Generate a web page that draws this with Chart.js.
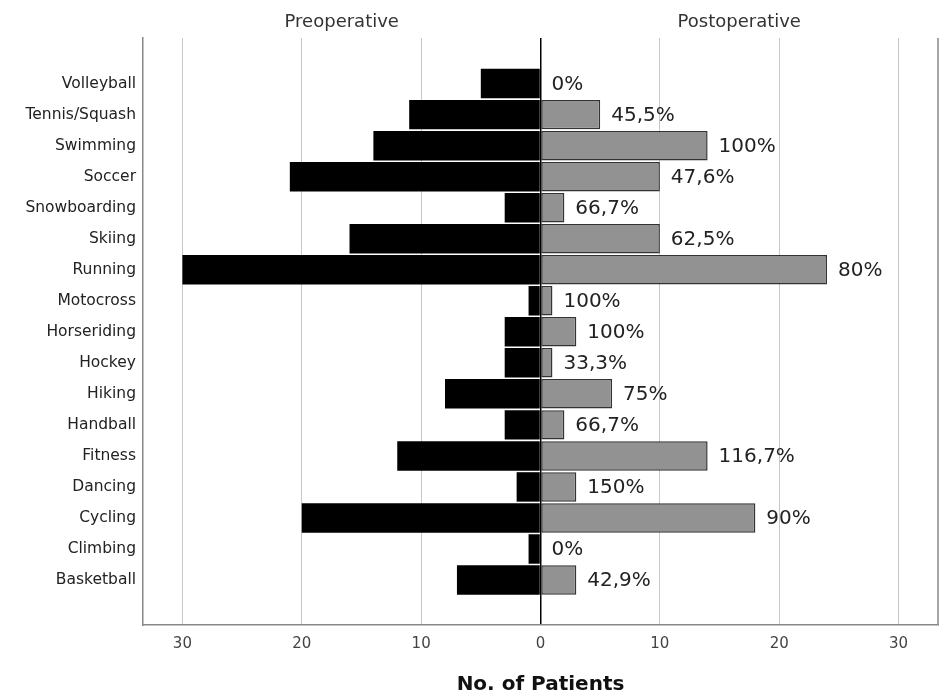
<!DOCTYPE html>
<html>
<head>
<meta charset="utf-8">
<script src="https://cdn.jsdelivr.net/npm/chart.js"></script>
<style>
  html, body { margin:0; padding:0; background:#fff; }
  .wrap { width:939px; height:699px; }
</style>
</head>
<body>
<div class="wrap"><canvas id="myChart"></canvas></div>
<script>
// data
var sports = ['Volleyball', 'Tennis/Squash', 'Swimming', 'Soccer', 'Snowboarding', 'Skiing', 'Running', 'Motocross', 'Horseriding', 'Hockey', 'Hiking', 'Handball', 'Fitness', 'Dancing', 'Cycling', 'Climbing', 'Basketball'];
var preop  = [5, 11, 14, 21, 3, 16, 30, 1, 3, 3, 8, 3, 12, 2, 20, 1, 7];
var postop = [0, 5, 14, 10, 2, 10, 24, 1, 3, 1, 6, 2, 14, 3, 18, 0, 3];
var changeLabels = ['0%', '45,5%', '100%', '47,6%', '66,7%', '62,5%', '80%', '100%', '100%', '33,3%', '75%', '66,7%', '116,7%', '150%', '90%', '0%', '42,9%'];
var xTicks = [-30, -20, -10, 0, 10, 20, 30];
var sideTitles = ['Preoperative', 'Postoperative'];

Chart.defaults.font.family = 'DejaVu Sans';

// percent labels, right frame, side titles
var extras = {
  id: 'extras',
  afterDatasetsDraw: function(chart){
    var c = chart.ctx, area = chart.chartArea;
    var zero = chart.scales.x.getPixelForValue(0);
    c.save();
    c.strokeStyle = '#888';
    c.lineWidth = 1.5;
    c.beginPath();
    c.moveTo(area.right, area.top);
    c.lineTo(area.right, area.bottom);
    c.stroke();

    c.font = '20px "DejaVu Sans"';
    c.fillStyle = '#222';
    c.textBaseline = 'middle';
    c.textAlign = 'left';
    chart.getDatasetMeta(1).data.forEach(function(bar, i){
      c.fillText(changeLabels[i], bar.x + 11, bar.y + 1);
    });

    c.font = '18px "DejaVu Sans"';
    c.fillStyle = '#333';
    c.textAlign = 'center';
    c.fillText(sideTitles[0], (area.left + zero) / 2, 22);
    c.fillText(sideTitles[1], (area.right + zero) / 2, 22);
    c.restore();
  }
};

var ctx = document.getElementById('myChart');

new Chart(ctx, {
  type: 'bar',
  data: {
    datasets: [
      {
        label: sideTitles[0],
        data: preop.map(function(v, i){ return {x: -v, y: i}; }),
        backgroundColor: '#000',
        borderWidth: 0,
        grouped: false
      },
      {
        label: sideTitles[1],
        data: postop.map(function(v, i){ return {x: v, y: i}; }),
        backgroundColor: '#929292',
        borderColor: '#333',
        borderWidth: 1.5,
        borderSkipped: false,
        grouped: false
      }
    ]
  },
  plugins: [extras],
  options: {
    indexAxis: 'y',
    responsive: true,
    maintainAspectRatio: false,
    animation: false,
    barPercentage: 0.95,
    categoryPercentage: 1,
    layout: { padding: { top: 38, right: 1, left: 0, bottom: 0 } },
    plugins: {
      legend: { display: false },
      tooltip: { enabled: false }
    },
    scales: {
      x: {
        type: 'linear',
        min: -33.3,
        max: 33.3,
        afterBuildTicks: function(s){ s.ticks = xTicks.map(function(v){ return {value: v}; }); },
        afterFit: function(s){ s.height = 74; },
        grid: {
          color: function(c){ return c.tick && c.tick.value === 0 ? '#000' : '#c8c8c8'; },
          lineWidth: function(c){ return c.tick && c.tick.value === 0 ? 1.5 : 1; },
          drawTicks: false
        },
        border: { color: '#888', width: 1.5 },
        ticks: {
          padding: 10,
          color: '#444',
          font: { size: 15 },
          callback: function(v){ return Math.abs(v); }
        },
        title: {
          display: true,
          text: 'No. of Patients',
          color: '#111',
          font: { size: 20, weight: 'bold' },
          padding: { top: 0, bottom: 2 }
        }
      },
      y: {
        type: 'linear',
        reverse: true,
        offset: false,
        min: -1.47,
        max: 17.45,
        afterBuildTicks: function(s){ s.ticks = sports.map(function(n, i){ return {value: i}; }); },
        afterFit: function(s){ s.width = 143; },
        grid: { display: false, drawTicks: false, offset: false },
        border: { color: '#888', width: 1.5 },
        ticks: {
          padding: 7,
          color: '#222',
          autoSkip: false,
          font: { size: 15.5 },
          callback: function(v){ return sports[v]; }
        }
      }
    }
  }
});
</script>
</body>
</html>
